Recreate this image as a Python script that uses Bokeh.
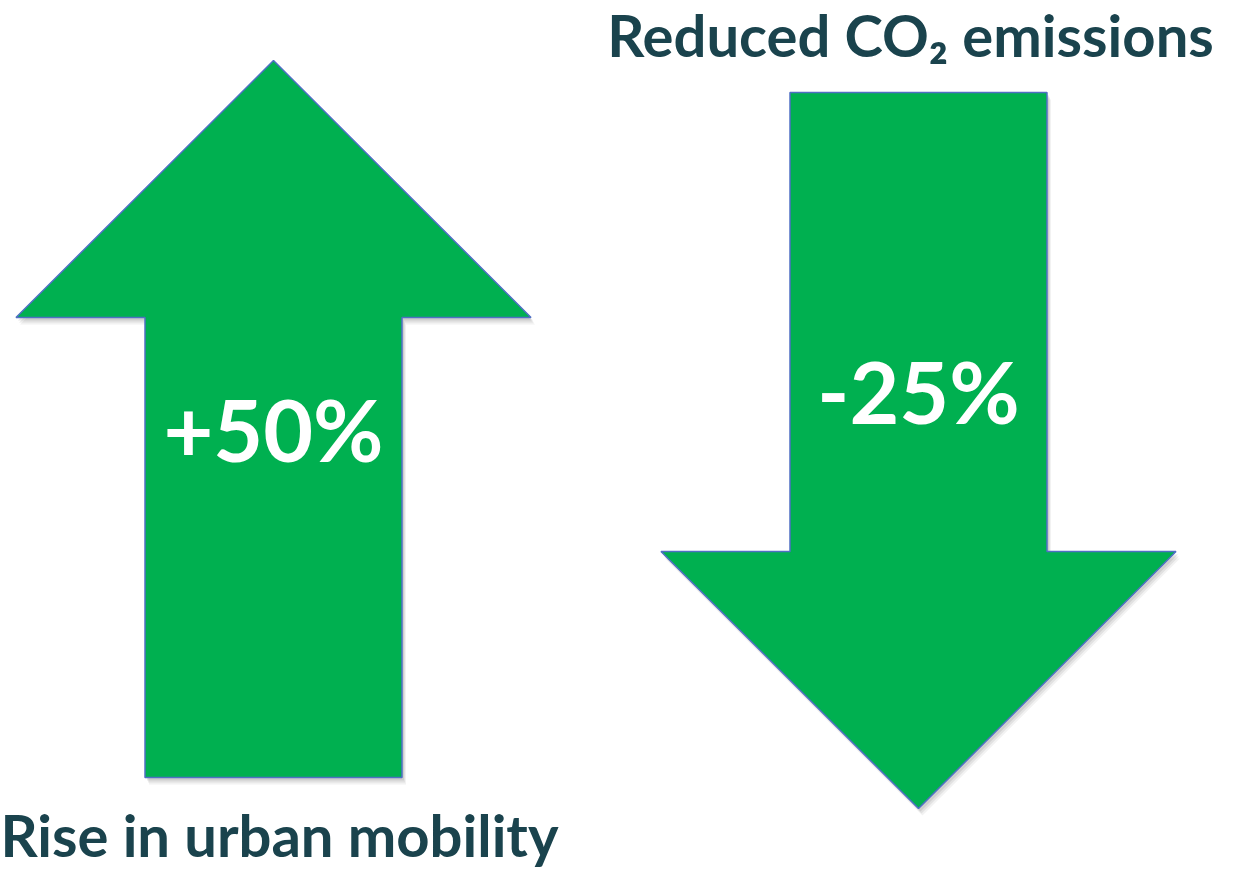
from bokeh.plotting import figure
from bokeh.models import Range1d
from bokeh.core.properties import value
from bokeh.embed import file_html
from bokeh.resources import INLINE

# ---- data ----
labels = ["Rise in urban mobility", "Reduced CO\u2082 emissions"]
changes = [50, -25]  # percent change
value_text = ["+50%", "-25%"]

# ---- layout (screen-pixel coordinates) ----
centers_x = [273, 918]
tails_y = [777, 92]
tips_y = [60, 808]
head_len = 257
head_half = 257.5
shaft_half = 128.5
GREEN = "#00B050"
EDGE = "#4F6FC4"
DARK = "#1A434D"

W, H = 1218, 871
p = figure(width=W, height=H, x_range=Range1d(0, W), y_range=Range1d(H, 0),
           output_backend="svg", toolbar_location=None, min_border=0)
p.axis.visible = False
p.grid.visible = False
p.outline_line_color = None
p.background_fill_color = "white"
p.border_fill_color = "white"

xs_all, ys_all = [], []
for cx, tail, tip, ch in zip(centers_x, tails_y, tips_y, changes):
    s = 1 if ch > 0 else -1  # up arrow: head base below tip
    hb = tip + s * head_len
    xs_all.append([cx, cx + head_half, cx + shaft_half, cx + shaft_half,
                   cx - shaft_half, cx - shaft_half, cx - head_half])
    ys_all.append([tip, hb, hb, tail, tail, hb, hb])

# soft shadow
for dx, dy, a in [(4, 7, 0.10), (3, 5, 0.15), (2, 3, 0.2)]:
    p.patches(xs=[[x + dx for x in xs] for xs in xs_all],
              ys=[[y + dy for y in ys] for ys in ys_all],
              fill_color="#808080", fill_alpha=a, line_color=None)

p.patches(xs=xs_all, ys=ys_all, fill_color=GREEN, line_color=EDGE, line_width=1.5)

# value labels inside arrows
vfs = 86
p.text(x=centers_x, y=[462 - 0.4 * vfs, 424 - 0.4 * vfs], text=value_text,
       text_font=value("Lato"), text_font_style="bold", text_font_size=f"{vfs}px",
       text_color="white", text_align="center", text_baseline="alphabetic")

# captions
cfs = 58
p.text(x=[279, 910], y=[857 - 0.4 * cfs, 57 - 0.4 * cfs], text=labels,
       text_font=value("Lato"), text_font_style="bold", text_font_size=f"{cfs}px",
       text_color=DARK, text_align="center", text_baseline="alphabetic")

open("out.html", "w").write(file_html(p, INLINE))
